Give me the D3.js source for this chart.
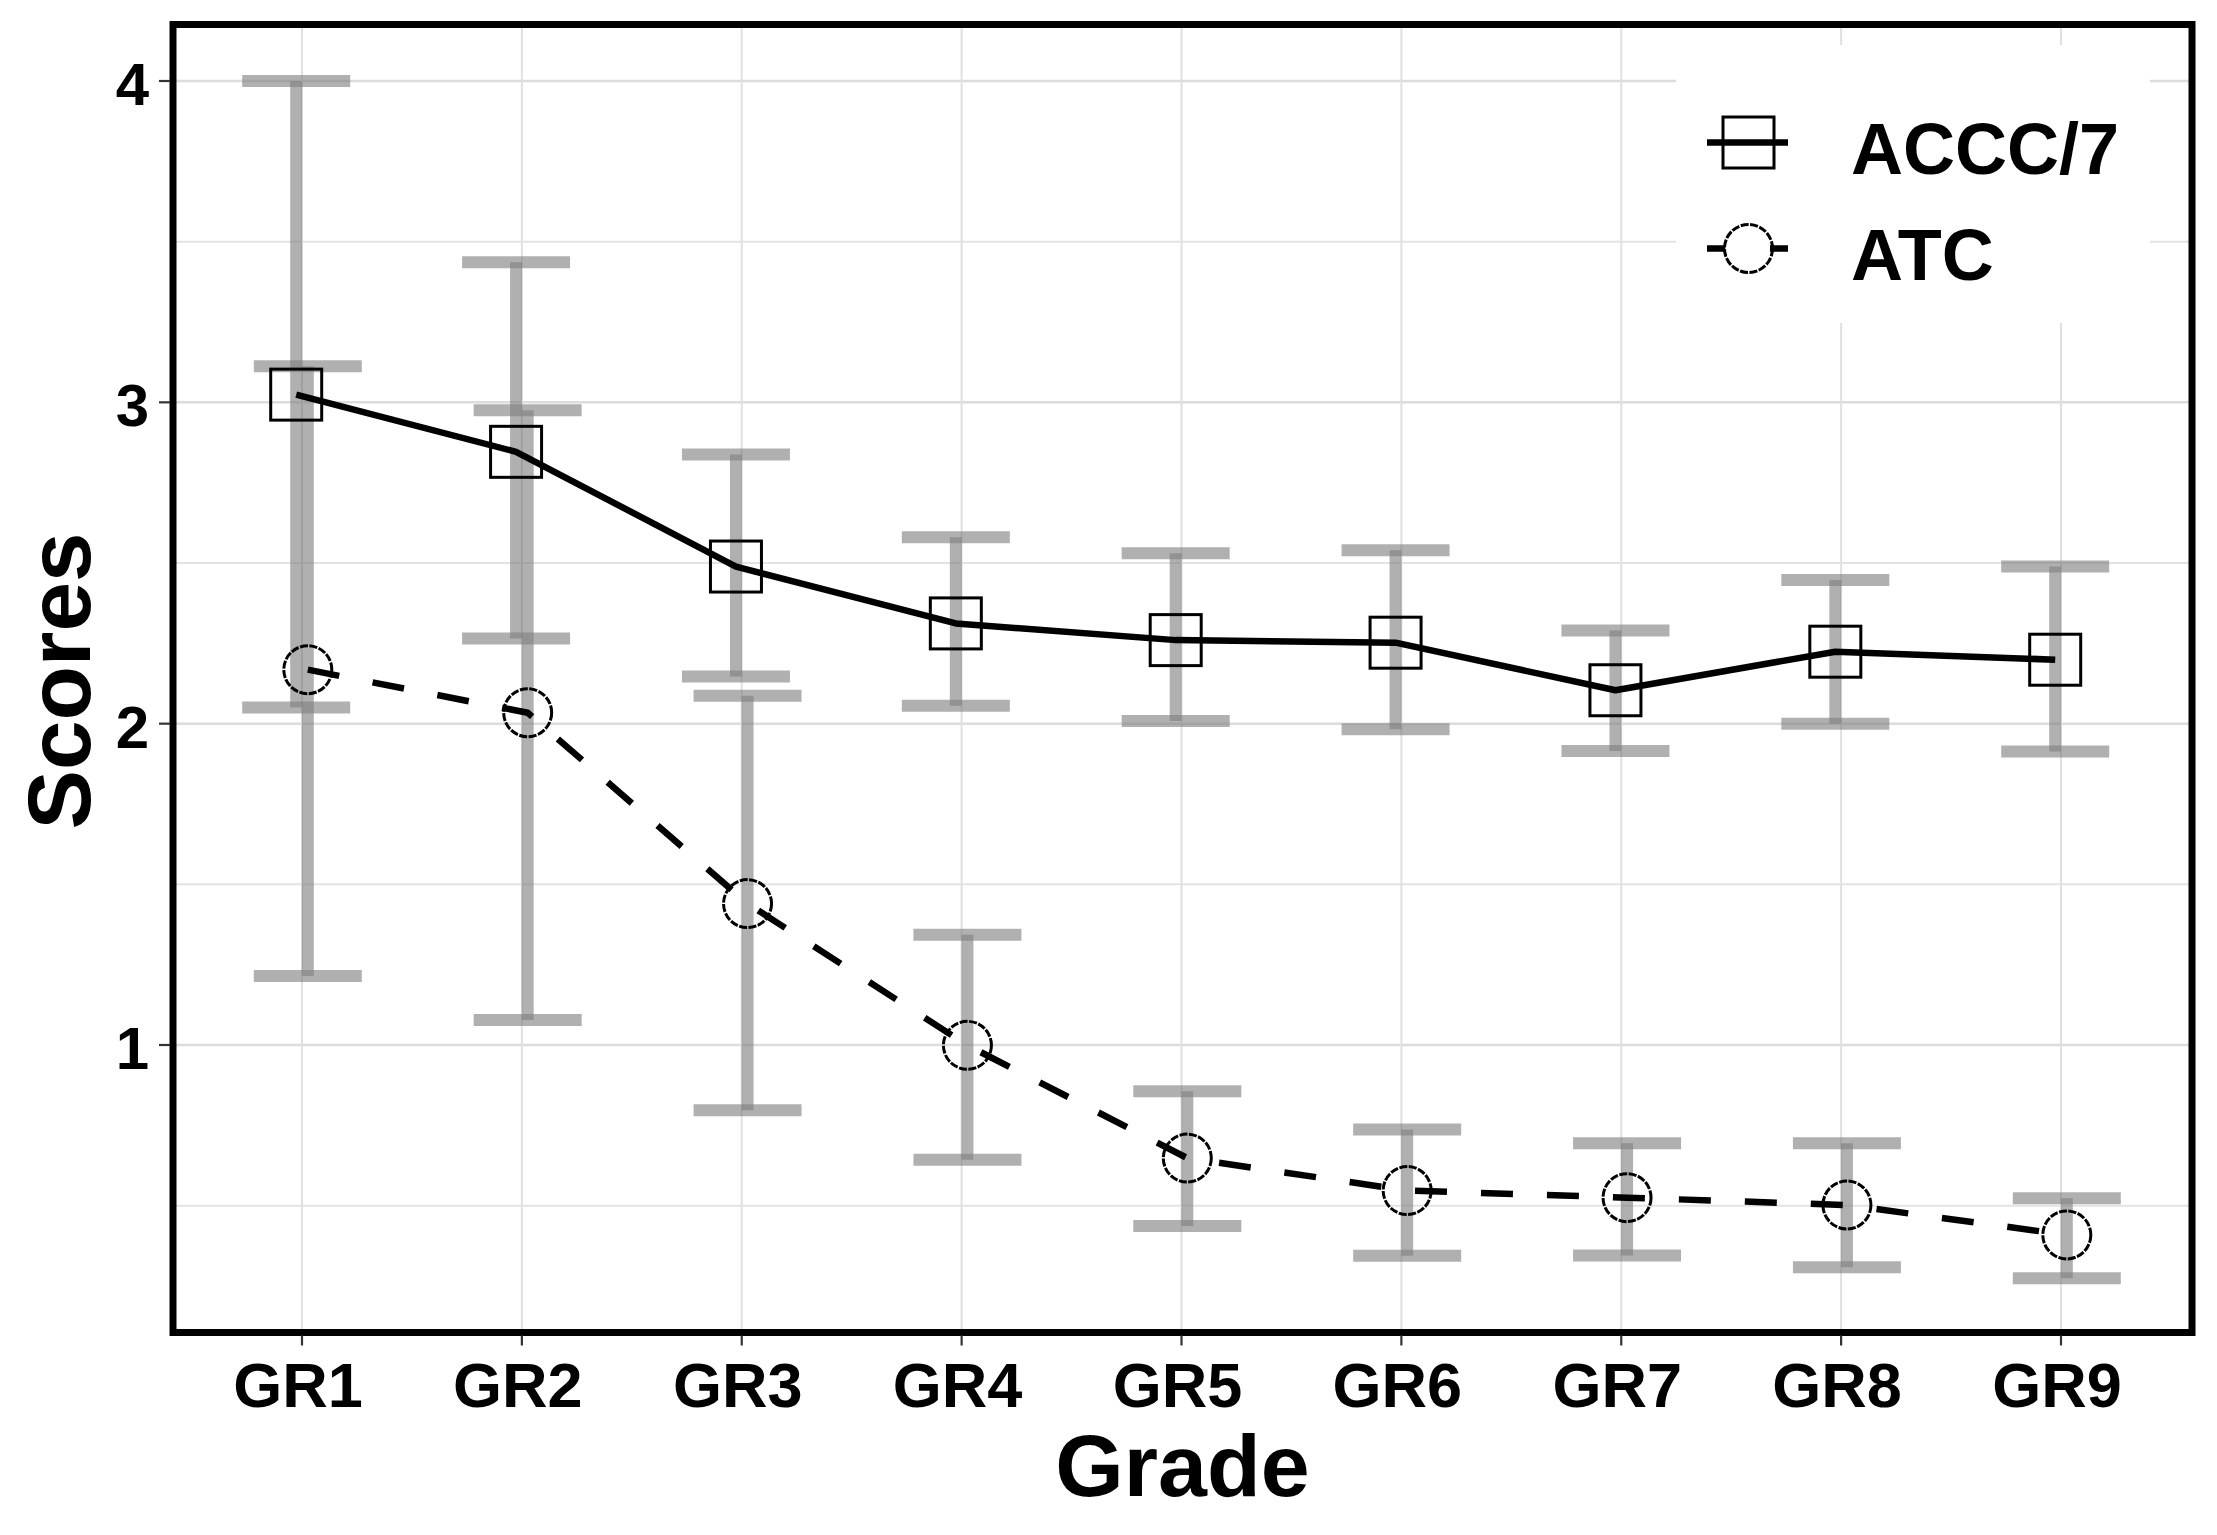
<!DOCTYPE html>
<html>
<head>
<meta charset="utf-8">
<script src="https://cdn.jsdelivr.net/npm/d3@7/dist/d3.min.js"></script>
<style>
  html, body { margin: 0; padding: 0; background: #fff; }
  svg { display: block; }
  text { font-family: "Liberation Sans", Arial, sans-serif; font-weight: bold; fill: #000; }
</style>
</head>
<body>
<svg id="chart" width="2217" height="1535"></svg>
<script>
// ---- data ----
const grades = ["GR1","GR2","GR3","GR4","GR5","GR6","GR7","GR8","GR9"];
const seriesNames = ["ACCC/7", "ATC"];
const acccMean  = [3.024, 2.846, 2.489, 2.312, 2.260, 2.252, 2.104, 2.224, 2.199];
const acccUpper = [4.000, 3.436, 2.838, 2.580, 2.530, 2.540, 2.290, 2.447, 2.489];
const acccLower = [2.050, 2.265, 2.147, 2.056, 2.008, 1.983, 1.915, 2.000, 1.913];
const atcMean   = [2.168, 2.034, 1.440, 0.999, 0.648, 0.547, 0.525, 0.502, 0.409];
const atcUpper  = [3.112, 2.975, 2.087, 1.343, 0.856, 0.737, 0.694, 0.694, 0.523];
const atcLower  = [1.215, 1.078, 0.797, 0.643, 0.437, 0.344, 0.345, 0.308, 0.274];
const yTicks = [1, 2, 3, 4];
const yMinor = [0.5, 1.5, 2.5, 3.5];

// ---- layout ----
const svg = d3.select("#chart");
const panel = { x0: 173, x1: 2192, y0: 24.5, y1: 1332.5 };
const x = d3.scalePoint().domain(grades).range([302, 2061]);
const y = d3.scaleLinear().domain([1, 4]).range([1045, 81]);
const dodge = 5.8;

const series = [
  { name: seriesNames[0], mean: acccMean, lo: acccLower, hi: acccUpper, off: -dodge, dash: null, shape: "square" },
  { name: seriesNames[1], mean: atcMean,  lo: atcLower,  hi: atcUpper,  off:  dodge, dash: "32,34", shape: "circle" }
];

// background
svg.append("rect").attr("x", 0).attr("y", 0).attr("width", 2217).attr("height", 1535).attr("fill", "#fff");

// grid
const grid = svg.append("g");
grid.selectAll(".ymin").data(yMinor).join("line")
  .attr("x1", panel.x0).attr("x2", panel.x1)
  .attr("y1", d => y(d)).attr("y2", d => y(d))
  .attr("stroke", "#e3e3e3").attr("stroke-width", 2);
grid.selectAll(".ymaj").data(yTicks).join("line")
  .attr("x1", panel.x0).attr("x2", panel.x1)
  .attr("y1", d => y(d)).attr("y2", d => y(d))
  .attr("stroke", "#dcdcdc").attr("stroke-width", 2.5);
grid.selectAll(".xmaj").data(grades).join("line")
  .attr("x1", d => x(d)).attr("x2", d => x(d))
  .attr("y1", panel.y0).attr("y2", panel.y1)
  .attr("stroke", "#e0e0e0").attr("stroke-width", 2);

// error bars
const capHalf = 54;
const ebG = svg.append("g");
series.forEach(s => {
  grades.forEach((g, i) => {
    const cx = x(g) + s.off;
    const common = sel => sel.attr("stroke", "#7f7f7f").attr("stroke-opacity", 0.62).attr("stroke-width", 12).attr("stroke-linecap", "butt");
    ebG.append("line").attr("x1", cx).attr("x2", cx).attr("y1", y(s.lo[i])).attr("y2", y(s.hi[i])).call(common);
    ebG.append("line").attr("x1", cx - capHalf).attr("x2", cx + capHalf).attr("y1", y(s.hi[i])).attr("y2", y(s.hi[i])).call(common);
    ebG.append("line").attr("x1", cx - capHalf).attr("x2", cx + capHalf).attr("y1", y(s.lo[i])).attr("y2", y(s.lo[i])).call(common);
  });
});

// lines
const lineGen = d3.line().x(d => d[0]).y(d => d[1]);
series.forEach(s => {
  const pts = grades.map((g, i) => [x(g) + s.off, y(s.mean[i])]);
  const p = svg.append("path").attr("d", lineGen(pts))
    .attr("fill", "none").attr("stroke", "#000").attr("stroke-width", 6.5)
    .attr("stroke-linecap", "butt").attr("stroke-linejoin", "round");
  if (s.dash) p.attr("stroke-dasharray", s.dash);
});

// points
function drawMarker(g, shape, cx, cy) {
  if (shape === "square") {
    g.append("rect").attr("x", cx - 25.5).attr("y", cy - 25.5).attr("width", 51).attr("height", 51)
      .attr("fill", "none").attr("stroke", "#000").attr("stroke-width", 3);
  } else {
    g.append("circle").attr("cx", cx).attr("cy", cy).attr("r", 24)
      .attr("fill", "none").attr("stroke", "#000").attr("stroke-width", 3)
      .attr("stroke-dasharray", "8,1.5");
  }
}
const ptG = svg.append("g");
series.forEach(s => {
  grades.forEach((g, i) => drawMarker(ptG, s.shape, x(g) + s.off, y(s.mean[i])));
});

// legend
const lg = svg.append("g");
lg.append("rect").attr("x", 1676).attr("y", 45).attr("width", 474).attr("height", 278).attr("fill", "#fff");
const legRows = [{ s: series[0], cy: 142.5, ty: 173.5 }, { s: series[1], cy: 248.5, ty: 279.5 }];
legRows.forEach(r => {
  const l = lg.append("line").attr("x1", 1707).attr("x2", 1788).attr("y1", r.cy).attr("y2", r.cy)
    .attr("stroke", "#000").attr("stroke-width", 6.5);
  if (r.s.dash) l.attr("stroke-dasharray", "18,45,18");
  drawMarker(lg, r.s.shape, 1748.5, r.cy);
  lg.append("text").attr("x", 1851).attr("y", r.ty).attr("font-size", 72).text(r.s.name);
});

// panel border
svg.append("rect").attr("x", panel.x0).attr("y", panel.y0)
  .attr("width", panel.x1 - panel.x0).attr("height", panel.y1 - panel.y0)
  .attr("fill", "none").attr("stroke", "#000").attr("stroke-width", 7);

// y axis ticks + labels
const yAx = svg.append("g");
yAx.selectAll("line").data(yTicks).join("line")
  .attr("x1", panel.x0 - 14).attr("x2", panel.x0 - 3).attr("y1", d => y(d)).attr("y2", d => y(d))
  .attr("stroke", "#333").attr("stroke-width", 2.2);
yAx.selectAll("text").data(yTicks).join("text")
  .attr("x", 149).attr("y", d => y(d)).attr("dy", "0.40em")
  .attr("text-anchor", "end").attr("font-size", 60).text(d => d3.format("d")(d));

// x axis ticks + labels
const xAx = svg.append("g");
xAx.selectAll("line").data(grades).join("line")
  .attr("x1", d => x(d)).attr("x2", d => x(d)).attr("y1", panel.y1 + 3).attr("y2", panel.y1 + 13)
  .attr("stroke", "#333").attr("stroke-width", 2.2);
xAx.selectAll("text").data(grades).join("text")
  .attr("x", d => x(d) - 4).attr("y", 1406.5)
  .attr("text-anchor", "middle").attr("font-size", 63).text(d => d);

// axis titles
svg.append("text").attr("x", (panel.x0 + panel.x1) / 2).attr("y", 1496)
  .attr("text-anchor", "middle").attr("font-size", 88).text("Grade");
svg.append("text").attr("transform", "translate(90,681) rotate(-90)")
  .attr("text-anchor", "middle").attr("font-size", 89).text("Scores");
</script>
</body>
</html>
